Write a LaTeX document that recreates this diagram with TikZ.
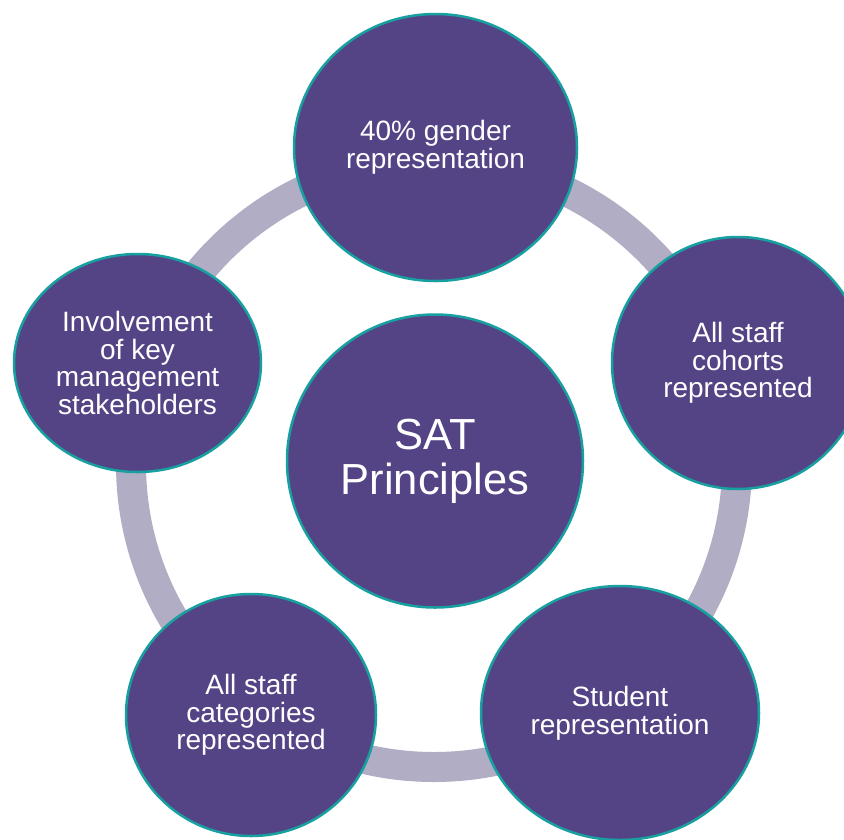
\documentclass[tikz,border=0pt]{standalone}
\usepackage{fontspec}
\setmainfont{Liberation Sans}
\usepackage{tikz}
\usetikzlibrary{shapes}
\usepackage{xcolor}
\definecolor{morado}{RGB}{84,68,134}
\definecolor{turquesa}{RGB}{24,160,160}
\definecolor{gris}{RGB}{176,173,196}

\begin{document}
\begin{tikzpicture}[x=1pt,y=-1pt,
	burbuja/.style={ellipse,draw=turquesa,line width=2.5pt,fill=morado,text=white,align=center,inner sep=0pt,font=\fontsize{28}{27.5}\selectfont}]
	\useasboundingbox (0,0) rectangle (844,839);
	\clip (0,0) rectangle (844,839);
	\fill[white] (0,0) rectangle (844,839); % fondo
	\draw[gris,line width=30pt] (434,464) circle (303); % anillo
	\node[burbuja,minimum width=296pt,minimum height=293pt,font=\fontsize{43.5}{45}\selectfont] (sat) at (435,461) {SAT\\Principles};
	\node[burbuja,minimum width=283pt,minimum height=267pt] (genero) at (435.5,147.5) {40\% gender\\representation};
	\node[burbuja,minimum width=252pt,minimum height=252pt] (cohortes) at (738,363) {All staff\\cohorts\\represented};
	\node[burbuja,minimum width=278pt,minimum height=254pt] (alumnos) at (620,713) {Student\\representation};
	\node[burbuja,minimum width=250pt,minimum height=242pt] (categorias) at (251,715) {All staff\\categories\\represented};
	\node[burbuja,minimum width=247pt,minimum height=218pt] (gestion) at (137.5,363) {Involvement\\of key\\management\\stakeholders};
\end{tikzpicture}
\end{document}
